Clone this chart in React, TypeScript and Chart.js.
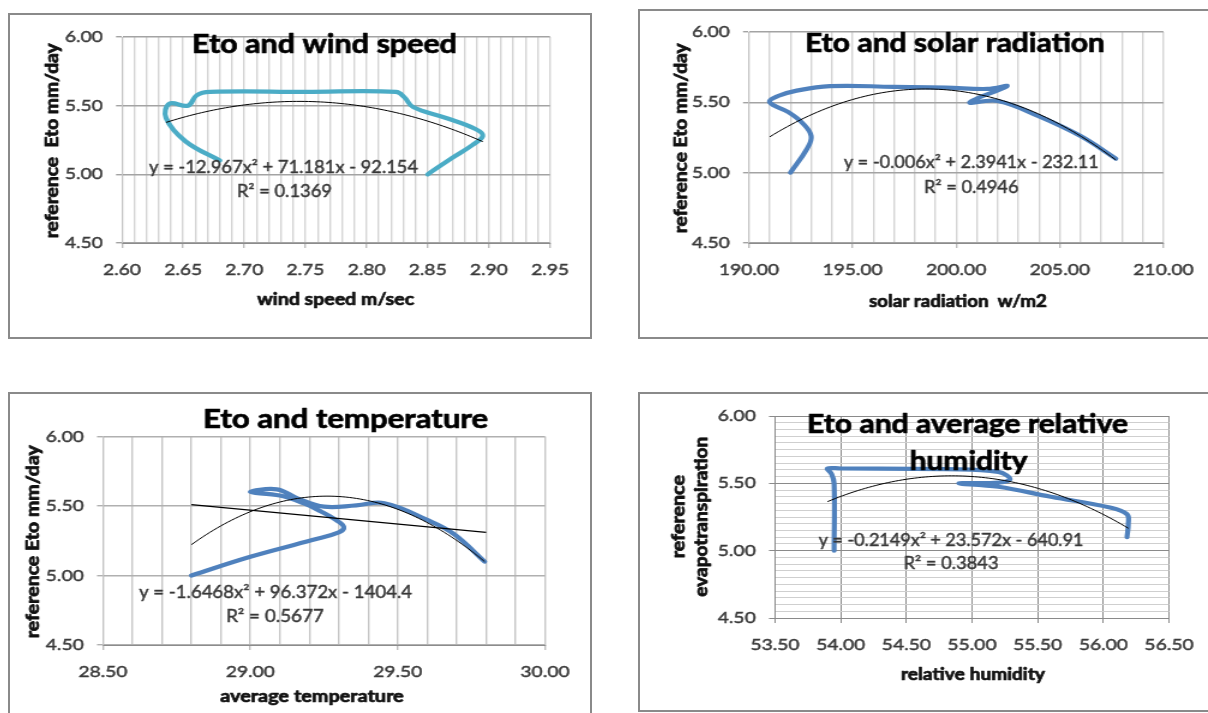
import React, { useEffect, useRef } from "react";
import { Chart, registerables } from "chart.js";

Chart.register(...registerables);

// ---------------- data ----------------
// Panel 1 : Eto vs wind speed
const windSpeed = [2.68, 2.652, 2.636, 2.639, 2.654, 2.661, 2.672, 2.75, 2.824, 2.831, 2.838, 2.865, 2.889, 2.895, 2.886, 2.87, 2.85];
const windEto = [5.1, 5.24, 5.41, 5.515, 5.5, 5.575, 5.6, 5.6, 5.6, 5.56, 5.49, 5.41, 5.33, 5.28, 5.21, 5.12, 5.0];
const windFit = [-12.967, 71.181, -92.154];

// Panel 2 : Eto vs solar radiation
const solarRad = [192.0, 192.8, 193.0, 192.6, 191.9, 191.0, 191.4, 192.2, 193.9, 197.0, 199.5, 201.5, 202.45, 200.65, 202.0, 204.0, 206.0, 207.7];
const solarEto = [5.0, 5.17, 5.26, 5.35, 5.43, 5.5, 5.545, 5.58, 5.615, 5.61, 5.605, 5.595, 5.615, 5.5, 5.51, 5.4, 5.26, 5.1];
const solarFit = [-0.006, 2.38236, -230.89];

// Panel 3 : Eto vs average temperature
const avgTemp = [28.8, 29.0, 29.21, 29.3, 29.317, 29.29, 29.24, 29.18, 29.1, 29.0, 29.09, 29.16, 29.25, 29.36, 29.455, 29.6, 29.69, 29.795];
const tempEto = [5.0, 5.135, 5.255, 5.31, 5.35, 5.4, 5.46, 5.52, 5.575, 5.6, 5.62, 5.555, 5.495, 5.505, 5.52, 5.4, 5.3, 5.1];
const tempFit = [-1.6468, 96.372, -1404.37];
const tempLinX = [28.8, 29.8];
const tempLinY = [5.51, 5.31];

// Panel 4 : Eto vs relative humidity
const relHum = [53.95, 53.95, 53.93, 53.9, 54.0, 54.8, 55.2, 55.29, 55.2, 54.9, 55.2, 55.6, 56.05, 56.18, 56.19, 56.18];
const humEto = [5.0, 5.5, 5.57, 5.61, 5.61, 5.605, 5.585, 5.53, 5.505, 5.5, 5.475, 5.4, 5.32, 5.27, 5.2, 5.1];
const humFit = [-0.2149, 23.572, -640.837];

// axis ranges / tick steps
const etoAxis = { min: 4.5, max: 6.0, step: 0.5, major: 0.5 };
const humEtoAxis = { min: 4.5, max: 6.0, step: 0.05, major: 0.5 };
const windAxis = { min: 2.6, max: 2.95, step: 0.01, major: 0.05 };
const solarAxis = { min: 190, max: 210, step: 1, major: 5 };
const tempAxis = { min: 28.5, max: 30, step: 0.1, major: 0.5 };
const humAxis = { min: 53.5, max: 56.5, step: 0.5, major: 0.5 };

// ---------------- styling ----------------
const FONT = "Lato, 'Open Sans', sans-serif";
const TICK_COLOR = "#3a3a3a";
const STRETCH = 1.2;
const YW = 50;
const XH = 40;
const TITLE_SIZE = 26;
const EQ_SIZE = 16.5;
const AX_SIZE = 16.5;
const AXY_SIZE = 15.5;

type Box = { x: number; y: number; w: number; h: number };
type TextItem = { text: string; x: number; y: number; len: number; size: number; bold?: boolean; rot?: boolean; color: string };
type AxisCfg = {
  range: { min: number; max: number; step: number; major: number };
  minorColor: string;
  majorColor: string;
  lineWidth: number;
  tickColor: string;
  border: string;
};
type PanelCfg = {
  key: string;
  frame: Box;
  box: Box;
  plot: { l: number; r: number; t: number; b: number };
  xs: number[];
  ys: number[];
  color: string;
  fit: number[];
  linX?: number[];
  linY?: number[];
  x: AxisCfg;
  y: AxisCfg;
  texts: TextItem[];
};

const mult = (v: number, s: number) => {
  const r = v / s;
  return Math.abs(r - Math.round(r)) < 1e-6;
};

function fitPoints(coef: number[], x0: number, x1: number) {
  const n = 80;
  const out: { x: number; y: number }[] = [];
  for (let i = 0; i <= n; i++) {
    const x = x0 + ((x1 - x0) * i) / n;
    out.push({ x, y: coef[0] * x * x + coef[1] * x + coef[2] });
  }
  return out;
}

const EQ = "#383838";
const BLK = "#111111";

const panels: PanelCfg[] = [
  {
    key: "wind",
    frame: { x: 8, y: 13, w: 584, h: 326 },
    box: { x: 10, y: 15, w: 580, h: 322 },
    plot: { l: 122, r: 550, t: 37, b: 243 },
    xs: windSpeed,
    ys: windEto,
    color: "#4bacc6",
    fit: windFit,
    x: { range: windAxis, minorColor: "#d4d4d4", majorColor: "#d4d4d4", lineWidth: 1.4, tickColor: "#bdbdbd", border: "#8c8c8c" },
    y: { range: etoAxis, minorColor: "#a3a3a3", majorColor: "#a3a3a3", lineWidth: 1.4, tickColor: "#a3a3a3", border: "#c4c4c4" },
    texts: [
      { text: "Eto and wind speed", x: 324.5, y: 52.5, len: 265, size: TITLE_SIZE, bold: true, color: "#000" },
      { text: "y = -12.967x\u00b2 + 71.181x - 92.154", x: 283.5, y: 172.5, len: 269, size: EQ_SIZE, color: EQ },
      { text: "R\u00b2 = 0.1369", x: 284.4, y: 197, len: 95, size: EQ_SIZE, color: EQ },
      { text: "wind speed m/sec", x: 335.6, y: 305, len: 157, size: AX_SIZE, bold: true, color: BLK },
      { text: "reference  Eto mm/day", x: 57.5, y: 140.8, len: 195, size: AXY_SIZE, bold: true, rot: true, color: BLK },
    ],
  },
  {
    key: "solar",
    frame: { x: 638, y: 9, w: 600, h: 330 },
    box: { x: 640, y: 11, w: 568, h: 326 },
    plot: { l: 749, r: 1167, t: 32, b: 243 },
    xs: solarRad,
    ys: solarEto,
    color: "#4f81bd",
    fit: solarFit,
    x: { range: solarAxis, minorColor: "#d4d4d4", majorColor: "#d4d4d4", lineWidth: 1.4, tickColor: "#bdbdbd", border: "#8c8c8c" },
    y: { range: etoAxis, minorColor: "#a3a3a3", majorColor: "#a3a3a3", lineWidth: 1.4, tickColor: "#a3a3a3", border: "#c4c4c4" },
    texts: [
      { text: "Eto and solar radiation", x: 955, y: 51.5, len: 300, size: TITLE_SIZE, bold: true, color: "#000" },
      { text: "y = -0.006x\u00b2 + 2.3941x - 232.11", x: 971.3, y: 168.3, len: 255, size: EQ_SIZE, color: EQ },
      { text: "R\u00b2 = 0.4946", x: 971.3, y: 192.7, len: 94.4, size: EQ_SIZE, color: EQ },
      { text: "solar radiation  w/m2", x: 958, y: 306.5, len: 178, size: AX_SIZE, bold: true, color: BLK },
      { text: "reference Eto mm/day", x: 687, y: 138.3, len: 190, size: AXY_SIZE, bold: true, rot: true, color: BLK },
    ],
  },
  {
    key: "temp",
    frame: { x: 8, y: 392, w: 584, h: 340 },
    box: { x: 10, y: 394, w: 580, h: 319 },
    plot: { l: 103, r: 545, t: 436.5, b: 645 },
    xs: avgTemp,
    ys: tempEto,
    color: "#4f81bd",
    fit: tempFit,
    linX: tempLinX,
    linY: tempLinY,
    x: { range: tempAxis, minorColor: "#c6c6c6", majorColor: "#c6c6c6", lineWidth: 1.4, tickColor: "#bdbdbd", border: "#8c8c8c" },
    y: { range: etoAxis, minorColor: "#b0b0b0", majorColor: "#b0b0b0", lineWidth: 1.4, tickColor: "#b0b0b0", border: "#c4c4c4" },
    texts: [
      { text: "Eto and temperature", x: 345.6, y: 428.3, len: 285, size: TITLE_SIZE, bold: true, color: "#000" },
      { text: "y = -1.6468x\u00b2 + 96.372x - 1404.4", x: 275.5, y: 598.3, len: 273, size: EQ_SIZE, color: EQ },
      { text: "R\u00b2 = 0.5677", x: 275, y: 622.3, len: 98, size: EQ_SIZE, color: EQ },
      { text: "average temperature", x: 312, y: 702.3, len: 183.5, size: AX_SIZE, bold: true, color: BLK },
      { text: "reference Eto mm/day", x: 38.7, y: 541.7, len: 193, size: AXY_SIZE, bold: true, rot: true, color: BLK },
    ],
  },
  {
    key: "hum",
    frame: { x: 638, y: 392, w: 600, h: 320 },
    box: { x: 640, y: 394, w: 568, h: 316 },
    plot: { l: 775, r: 1173, t: 416, b: 618 },
    xs: relHum,
    ys: humEto,
    color: "#4f81bd",
    fit: humFit,
    x: { range: humAxis, minorColor: "#8a8a8a", majorColor: "#8a8a8a", lineWidth: 1, tickColor: "#8a8a8a", border: "#8a8a8a" },
    y: { range: humEtoAxis, minorColor: "#cfcfcf", majorColor: "#8a8a8a", lineWidth: 1, tickColor: "#8a8a8a", border: "#8a8a8a" },
    texts: [
      { text: "Eto and average relative", x: 967.5, y: 433.3, len: 321, size: TITLE_SIZE, bold: true, color: "#000" },
      { text: "humidity", x: 968.5, y: 470, len: 118, size: TITLE_SIZE, bold: true, color: "#000" },
      { text: "y = -0.2149x\u00b2 + 23.572x - 640.91", x: 951, y: 545.7, len: 265, size: EQ_SIZE, color: EQ },
      { text: "R\u00b2 = 0.3843", x: 951, y: 569.3, len: 95, size: EQ_SIZE, color: EQ },
      { text: "relative humidity", x: 973, y: 680, len: 144, size: AX_SIZE, bold: true, color: BLK },
      { text: "reference", x: 685, y: 516.7, len: 83.3, size: AXY_SIZE, bold: true, rot: true, color: BLK },
      { text: "evapotranspiration", x: 707, y: 516.7, len: 160, size: AXY_SIZE, bold: true, rot: true, color: BLK },
    ],
  },
];

function textPlugin(items: TextItem[], box: Box, sx: number) {
  return {
    id: "panelTexts",
    afterDraw(chart: any) {
      const ctx: CanvasRenderingContext2D = chart.ctx;
      for (const it of items) {
        ctx.save();
        const wt = it.bold ? "700 " : "400 ";
        ctx.font = `${wt}${it.size}px ${FONT}`;
        const m = ctx.measureText(it.text).width;
        const target = it.rot ? it.len : it.len / sx;
        const k = target / m;
        ctx.fillStyle = it.color;
        ctx.strokeStyle = it.color;
        ctx.lineWidth = it.bold ? 0.7 : 0.45;
        ctx.lineJoin = "round";
        ctx.textAlign = "center";
        ctx.textBaseline = "alphabetic";
        const x = (it.x - box.x) / sx;
        const y = it.y - box.y;
        ctx.translate(x, y);
        if (it.rot) ctx.rotate(-Math.PI / 2);
        ctx.scale(k, 1);
        ctx.fillText(it.text, 0, 0);
        ctx.strokeText(it.text, 0, 0);
        ctx.restore();
      }
    },
  };
}

function axisOptions(a: AxisCfg, horizontal: boolean) {
  const r = a.range;
  const isMinor = (c: any) => c && c.tick && !mult(c.tick.value, r.major);
  return {
    type: "linear",
    position: horizontal ? "bottom" : "left",
    min: r.min,
    max: r.max,
    afterFit: (s: any) => {
      if (horizontal) s.height = XH;
      else s.width = YW;
    },
    ticks: {
      stepSize: r.step,
      autoSkip: false,
      maxRotation: 0,
      minRotation: 0,
      padding: horizontal ? 12 : 11,
      color: TICK_COLOR,
      textStrokeColor: TICK_COLOR,
      textStrokeWidth: 0.45,
      font: { family: FONT, size: 16 },
      callback: (v: any) => (mult(Number(v), r.major) ? Number(v).toFixed(2) : ""),
    },
    grid: {
      color: (c: any) => (isMinor(c) ? a.minorColor : a.majorColor),
      lineWidth: a.lineWidth,
      tickLength: 5,
      tickColor: (c: any) => (isMinor(c) ? "rgba(0,0,0,0)" : a.tickColor),
    },
    border: { color: a.border, width: 1 },
  };
}

function makeChart(canvas: HTMLCanvasElement, p: PanelCfg) {
  const W = canvas.width;
  const H = canvas.height;
  const sx = p.box.w / W;
  const lx = (v: number) => (v - p.box.x) / sx;
  const ly = (v: number) => v - p.box.y;
  const padding = {
    left: lx(p.plot.l) - YW,
    right: W - lx(p.plot.r),
    top: ly(p.plot.t),
    bottom: H - ly(p.plot.b) - XH,
  };
  const minX = Math.min(...p.xs);
  const maxX = Math.max(...p.xs);
  const datasets: any[] = [
    {
      data: fitPoints(p.fit, minX, maxX),
      showLine: true,
      borderColor: "#000000",
      borderWidth: 1,
      pointRadius: 0,
      tension: 0,
    },
  ];
  if (p.linX && p.linY) {
    datasets.push({
      data: p.linX.map((x, i) => ({ x, y: p.linY![i] })),
      showLine: true,
      borderColor: "#000000",
      borderWidth: 1.2,
      pointRadius: 0,
      tension: 0,
    });
  }
  datasets.push({
    data: p.xs.map((x, i) => ({ x, y: p.ys[i] })),
    showLine: true,
    borderColor: p.color,
    borderWidth: 4.2,
    pointRadius: 0,
    tension: 0.4,
    borderCapStyle: "round",
    borderJoinStyle: "round",
  });
  return new Chart(canvas, {
    type: "scatter",
    data: { datasets },
    options: {
      animation: false,
      responsive: false,
      events: [],
      layout: { padding },
      plugins: { legend: { display: false }, tooltip: { enabled: false }, title: { display: false } },
      scales: {
        x: axisOptions(p.x, true) as any,
        y: axisOptions(p.y, false) as any,
      },
    },
    plugins: [textPlugin(p.texts, p.box, sx) as any],
  });
}

function Panel({ cfg }: { cfg: PanelCfg }) {
  const ref = useRef<HTMLCanvasElement>(null);
  const W = Math.round(cfg.box.w / STRETCH);
  useEffect(() => {
    const chart = makeChart(ref.current as HTMLCanvasElement, cfg);
    return () => chart.destroy();
  }, [cfg]);
  return (
    <canvas
      ref={ref}
      width={W}
      height={cfg.box.h}
      style={{ position: "absolute", left: cfg.box.x, top: cfg.box.y, width: cfg.box.w, height: cfg.box.h }}
    />
  );
}

export default function App() {
  return (
    <div
      style={{
        position: "absolute",
        left: 0,
        top: 0,
        width: 1208,
        height: 713,
        overflow: "hidden",
        background: "#ffffff",
      }}
    >
      {panels.map((p) => (
        <div
          key={"f" + p.key}
          style={{
            position: "absolute",
            left: p.frame.x,
            top: p.frame.y,
            width: p.frame.w,
            height: p.frame.h,
            border: "2px solid #8a8a8a",
            boxSizing: "border-box",
          }}
        />
      ))}
      {panels.map((p) => (
        <Panel key={p.key} cfg={p} />
      ))}
    </div>
  );
}
